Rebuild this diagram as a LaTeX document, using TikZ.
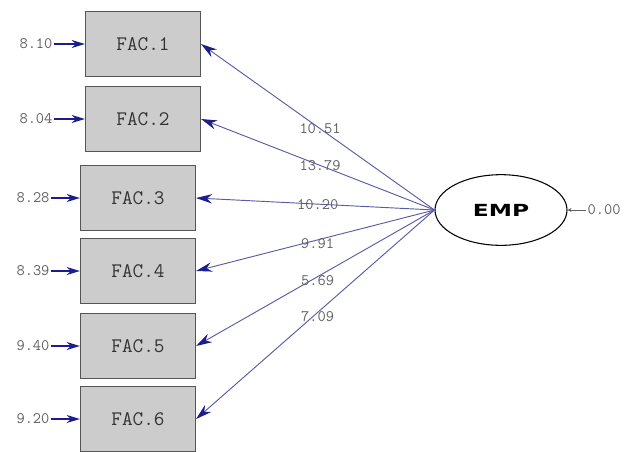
\documentclass[tikz,border=0pt]{standalone}
\usepackage{fontspec}
\usetikzlibrary{shapes.geometric,arrows.meta}
\newfontfamily\latfont[FakeStretch=1.4]{DejaVu Sans}
\definecolor{boxgray}{RGB}{204,204,204}
\definecolor{boxedge}{RGB}{85,85,85}
\definecolor{pathblue}{RGB}{90,90,165}
\definecolor{headblue}{RGB}{28,28,140}
\definecolor{numgray}{RGB}{95,95,95}
\begin{document}
\begin{tikzpicture}[x=0.75pt,y=-0.75pt,
    obs/.style={draw=boxedge, line width=1.1pt, fill=boxgray, minimum width=86pt,
        minimum height=49pt, inner sep=0pt, text=black!80,
        font=\ttfamily\fontsize{15.5}{15.5}\selectfont},
    lat/.style={ellipse, draw=black, line width=0.8pt, minimum width=99pt,
        minimum height=53pt, inner sep=0pt, font=\latfont\bfseries\fontsize{12.5}{12.5}\selectfont},
    num/.style={font=\ttfamily\fontsize{12}{12}\selectfont, text=numgray, inner sep=1pt},
    load/.style={draw=pathblue, line width=0.7pt, -{Stealth[length=12pt,width=7pt,color=headblue]}},
    err/.style={draw=headblue, line width=1.3pt, -{Stealth[length=10pt,width=6pt]}}]
    \useasboundingbox (0,0) rectangle (627,451);

    \node[obs] (f1) at (143,44) {FAC.1};
    \node[obs] (f2) at (143,119) {FAC.2};
    \node[obs] (f3) at (138,198) {FAC.3};
    \node[obs] (f4) at (138,271) {FAC.4};
    \node[obs] (f5) at (138,346) {FAC.5};
    \node[obs] (f6) at (138,419) {FAC.6};
    \node[lat] (emp) at (501,210) {EMP};

    \node[num] (e1) at (36,44) {8.10};
    \node[num] (e2) at (36,119) {8.04};
    \node[num] (e3) at (33,198) {8.28};
    \node[num] (e4) at (33,271) {8.39};
    \node[num] (e5) at (33,346) {9.40};
    \node[num] (e6) at (33,419) {9.20};
    \node[num, anchor=west] (z) at (586,210) {0.00};

    \draw[err] (e1) -- (f1);
    \draw[err] (e2) -- (f2);
    \draw[err] (e3) -- (f3);
    \draw[err] (e4) -- (f4);
    \draw[err] (e5) -- (f5);
    \draw[err] (e6) -- (f6);
    \draw[numgray, line width=0.4pt, -{Stealth[length=3pt,width=3pt]}] (z) -- (emp);

    \draw[load] (emp.west) -- node[num, pos=0.49] (p1) {10.51} (f1.east);
    \draw[load] (emp.west) -- node[num, pos=0.49] (p2) {13.79} (f2.east);
    \draw[load] (emp.west) -- node[num, pos=0.49] (p3) {10.20} (f3.east);
    \draw[load] (emp.west) -- node[num, pos=0.49, yshift=-3pt] (p4) {9.91} (f4.east);
    \draw[load] (emp.west) -- node[num, pos=0.49, yshift=-3pt] (p5) {5.69} (f5.east);
    \draw[load] (emp.west) -- node[num, pos=0.49, yshift=-3pt] (p6) {7.09} (f6.east);
\end{tikzpicture}
\end{document}
